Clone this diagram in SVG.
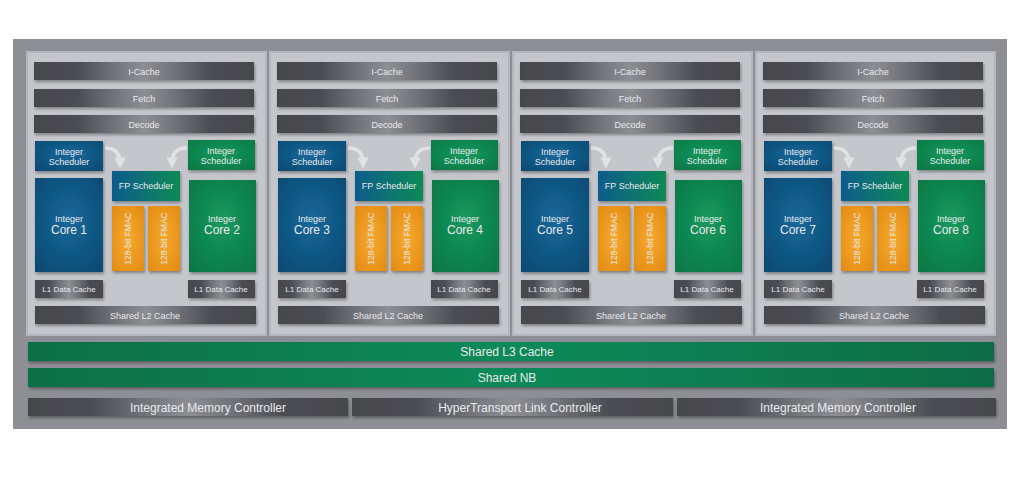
<svg xmlns="http://www.w3.org/2000/svg" width="1024" height="478" viewBox="0 0 1024 478">
<defs>
<linearGradient id="gBar" x1="0" y1="0" x2="1" y2="0">
<stop offset="0" stop-color="#45474d"/><stop offset="0.2" stop-color="#4b4d53"/><stop offset="0.36" stop-color="#707278"/><stop offset="0.5" stop-color="#8c8e94"/><stop offset="0.64" stop-color="#707278"/><stop offset="0.8" stop-color="#4b4d53"/><stop offset="1" stop-color="#45474d"/>
</linearGradient>
<radialGradient id="gBlue" cx="0.5" cy="0.45" r="0.7">
<stop offset="0" stop-color="#16689a"/><stop offset="1" stop-color="#0b4a72"/>
</radialGradient>
<radialGradient id="gGreen" cx="0.5" cy="0.45" r="0.7">
<stop offset="0" stop-color="#16995e"/><stop offset="1" stop-color="#097746"/>
</radialGradient>
<radialGradient id="gOrange" cx="0.5" cy="0.5" r="0.7">
<stop offset="0" stop-color="#f5a92e"/><stop offset="1" stop-color="#e38b14"/>
</radialGradient>
<linearGradient id="gFP" x1="0" y1="0" x2="1" y2="0">
<stop offset="0" stop-color="#0e5c8c"/><stop offset="1" stop-color="#0a8a55"/>
</linearGradient>
<linearGradient id="gL3" x1="0" y1="0" x2="1" y2="0">
<stop offset="0" stop-color="#087045"/><stop offset="0.5" stop-color="#0a8a5a"/><stop offset="1" stop-color="#076c46"/>
</linearGradient>
<filter id="sh" x="-10%" y="-20%" width="130%" height="160%">
<feDropShadow dx="1" dy="2" stdDeviation="1.5" flood-color="#000" flood-opacity="0.35"/>
</filter>
<marker id="ah" viewBox="0 0 10 10" refX="5" refY="5" markerWidth="3.2" markerHeight="3.2" orient="auto">
<path d="M0,0 L10,5 L0,10 z" fill="#e4e6ea"/>
</marker>
</defs>
<style>
.t{font-family:"Liberation Sans",Arial,sans-serif;fill:#e8e9ec;text-anchor:middle}
.s9{font-size:9px}.s8{font-size:8px}.s85{font-size:8.5px}.s11{font-size:12px}.s12{font-size:12px}
.bar{fill:url(#gBar);filter:url(#sh)}
.blue{fill:url(#gBlue);filter:url(#sh)}
.green{fill:url(#gGreen);filter:url(#sh)}
.orange{fill:url(#gOrange);filter:url(#sh)}
.fp{fill:url(#gFP);filter:url(#sh)}
.l3{fill:url(#gL3);filter:url(#sh)}
.mod{fill:#c4c6cb;stroke:#b3b6bc;stroke-width:2}
.arr{fill:none;stroke:#e4e6ea;stroke-width:3.5;marker-end:url(#ah);opacity:0.9}
</style>
<rect width="1024" height="478" fill="#ffffff"/>
<g id="chip-frame"><rect x="13" y="39" width="994" height="390" fill="#8d8f95"/></g>

<g id="module-1" transform="translate(0,0)">
<rect class="mod" x="27" y="52" width="239" height="283"/>
<g id="m1-icache"><rect class="bar" x="34" y="62" width="220" height="18"/><text class="t s9" x="144" y="75">I-Cache</text></g>
<g id="m1-fetch"><rect class="bar" x="34" y="89" width="220" height="18"/><text class="t s9" x="144" y="102">Fetch</text></g>
<g id="m1-decode"><rect class="bar" x="34" y="115" width="220" height="18"/><text class="t s9" x="144" y="128">Decode</text></g>
<g id="m1-isched-a"><rect class="blue" x="35" y="141" width="68" height="30"/><text class="t s9" x="69" y="155">Integer</text><text class="t s9" x="69" y="165">Scheduler</text></g>
<g id="m1-isched-b"><rect class="green" x="188" y="140" width="67" height="30"/><text class="t s9" x="221" y="154">Integer</text><text class="t s9" x="221" y="164">Scheduler</text></g>
<g id="m1-fpsched"><rect class="fp" x="112" y="171" width="68" height="30"/><text class="t s9" x="146" y="189">FP Scheduler</text></g>
<g id="m1-core-a"><rect class="blue" x="35" y="178" width="68" height="94"/><text class="t s9" x="69" y="222">Integer</text><text class="t s11" x="69" y="234">Core 1</text></g>
<g id="m1-fmac-a"><rect class="orange" x="112" y="206" width="32" height="65"/><text class="t s85" transform="translate(131,238.5) rotate(-90)">128-bit FMAC</text></g>
<g id="m1-fmac-b"><rect class="orange" x="148" y="206" width="32" height="65"/><text class="t s85" transform="translate(167,238.5) rotate(-90)">128-bit FMAC</text></g>
<g id="m1-core-b"><rect class="green" x="189" y="180" width="67" height="92"/><text class="t s9" x="222" y="222">Integer</text><text class="t s11" x="222" y="234">Core 2</text></g>
<g id="m1-l1-a"><rect class="bar" x="35" y="280" width="68" height="18"/><text class="t s8" x="69" y="292">L1 Data Cache</text></g>
<g id="m1-l1-b"><rect class="bar" x="188" y="280" width="67" height="18"/><text class="t s8" x="221" y="292">L1 Data Cache</text></g>
<g id="m1-l2"><rect class="bar" x="35" y="306" width="221" height="18"/><text class="t s9" x="145" y="319">Shared L2 Cache</text></g>
</g>

<g id="module-2" transform="translate(243,0)">
<rect class="mod" x="27" y="52" width="239" height="283"/>
<g id="m2-icache"><rect class="bar" x="34" y="62" width="220" height="18"/><text class="t s9" x="144" y="75">I-Cache</text></g>
<g id="m2-fetch"><rect class="bar" x="34" y="89" width="220" height="18"/><text class="t s9" x="144" y="102">Fetch</text></g>
<g id="m2-decode"><rect class="bar" x="34" y="115" width="220" height="18"/><text class="t s9" x="144" y="128">Decode</text></g>
<g id="m2-isched-a"><rect class="blue" x="35" y="141" width="68" height="30"/><text class="t s9" x="69" y="155">Integer</text><text class="t s9" x="69" y="165">Scheduler</text></g>
<g id="m2-isched-b"><rect class="green" x="188" y="140" width="67" height="30"/><text class="t s9" x="221" y="154">Integer</text><text class="t s9" x="221" y="164">Scheduler</text></g>
<g id="m2-fpsched"><rect class="fp" x="112" y="171" width="68" height="30"/><text class="t s9" x="146" y="189">FP Scheduler</text></g>
<g id="m2-core-a"><rect class="blue" x="35" y="178" width="68" height="94"/><text class="t s9" x="69" y="222">Integer</text><text class="t s11" x="69" y="234">Core 3</text></g>
<g id="m2-fmac-a"><rect class="orange" x="112" y="206" width="32" height="65"/><text class="t s85" transform="translate(131,238.5) rotate(-90)">128-bit FMAC</text></g>
<g id="m2-fmac-b"><rect class="orange" x="148" y="206" width="32" height="65"/><text class="t s85" transform="translate(167,238.5) rotate(-90)">128-bit FMAC</text></g>
<g id="m2-core-b"><rect class="green" x="189" y="180" width="67" height="92"/><text class="t s9" x="222" y="222">Integer</text><text class="t s11" x="222" y="234">Core 4</text></g>
<g id="m2-l1-a"><rect class="bar" x="35" y="280" width="68" height="18"/><text class="t s8" x="69" y="292">L1 Data Cache</text></g>
<g id="m2-l1-b"><rect class="bar" x="188" y="280" width="67" height="18"/><text class="t s8" x="221" y="292">L1 Data Cache</text></g>
<g id="m2-l2"><rect class="bar" x="35" y="306" width="221" height="18"/><text class="t s9" x="145" y="319">Shared L2 Cache</text></g>
</g>

<g id="module-3" transform="translate(486,0)">
<rect class="mod" x="27" y="52" width="239" height="283"/>
<g id="m3-icache"><rect class="bar" x="34" y="62" width="220" height="18"/><text class="t s9" x="144" y="75">I-Cache</text></g>
<g id="m3-fetch"><rect class="bar" x="34" y="89" width="220" height="18"/><text class="t s9" x="144" y="102">Fetch</text></g>
<g id="m3-decode"><rect class="bar" x="34" y="115" width="220" height="18"/><text class="t s9" x="144" y="128">Decode</text></g>
<g id="m3-isched-a"><rect class="blue" x="35" y="141" width="68" height="30"/><text class="t s9" x="69" y="155">Integer</text><text class="t s9" x="69" y="165">Scheduler</text></g>
<g id="m3-isched-b"><rect class="green" x="188" y="140" width="67" height="30"/><text class="t s9" x="221" y="154">Integer</text><text class="t s9" x="221" y="164">Scheduler</text></g>
<g id="m3-fpsched"><rect class="fp" x="112" y="171" width="68" height="30"/><text class="t s9" x="146" y="189">FP Scheduler</text></g>
<g id="m3-core-a"><rect class="blue" x="35" y="178" width="68" height="94"/><text class="t s9" x="69" y="222">Integer</text><text class="t s11" x="69" y="234">Core 5</text></g>
<g id="m3-fmac-a"><rect class="orange" x="112" y="206" width="32" height="65"/><text class="t s85" transform="translate(131,238.5) rotate(-90)">128-bit FMAC</text></g>
<g id="m3-fmac-b"><rect class="orange" x="148" y="206" width="32" height="65"/><text class="t s85" transform="translate(167,238.5) rotate(-90)">128-bit FMAC</text></g>
<g id="m3-core-b"><rect class="green" x="189" y="180" width="67" height="92"/><text class="t s9" x="222" y="222">Integer</text><text class="t s11" x="222" y="234">Core 6</text></g>
<g id="m3-l1-a"><rect class="bar" x="35" y="280" width="68" height="18"/><text class="t s8" x="69" y="292">L1 Data Cache</text></g>
<g id="m3-l1-b"><rect class="bar" x="188" y="280" width="67" height="18"/><text class="t s8" x="221" y="292">L1 Data Cache</text></g>
<g id="m3-l2"><rect class="bar" x="35" y="306" width="221" height="18"/><text class="t s9" x="145" y="319">Shared L2 Cache</text></g>
</g>

<g id="module-4" transform="translate(729,0)">
<rect class="mod" x="27" y="52" width="239" height="283"/>
<g id="m4-icache"><rect class="bar" x="34" y="62" width="220" height="18"/><text class="t s9" x="144" y="75">I-Cache</text></g>
<g id="m4-fetch"><rect class="bar" x="34" y="89" width="220" height="18"/><text class="t s9" x="144" y="102">Fetch</text></g>
<g id="m4-decode"><rect class="bar" x="34" y="115" width="220" height="18"/><text class="t s9" x="144" y="128">Decode</text></g>
<g id="m4-isched-a"><rect class="blue" x="35" y="141" width="68" height="30"/><text class="t s9" x="69" y="155">Integer</text><text class="t s9" x="69" y="165">Scheduler</text></g>
<g id="m4-isched-b"><rect class="green" x="188" y="140" width="67" height="30"/><text class="t s9" x="221" y="154">Integer</text><text class="t s9" x="221" y="164">Scheduler</text></g>
<g id="m4-fpsched"><rect class="fp" x="112" y="171" width="68" height="30"/><text class="t s9" x="146" y="189">FP Scheduler</text></g>
<g id="m4-core-a"><rect class="blue" x="35" y="178" width="68" height="94"/><text class="t s9" x="69" y="222">Integer</text><text class="t s11" x="69" y="234">Core 7</text></g>
<g id="m4-fmac-a"><rect class="orange" x="112" y="206" width="32" height="65"/><text class="t s85" transform="translate(131,238.5) rotate(-90)">128-bit FMAC</text></g>
<g id="m4-fmac-b"><rect class="orange" x="148" y="206" width="32" height="65"/><text class="t s85" transform="translate(167,238.5) rotate(-90)">128-bit FMAC</text></g>
<g id="m4-core-b"><rect class="green" x="189" y="180" width="67" height="92"/><text class="t s9" x="222" y="222">Integer</text><text class="t s11" x="222" y="234">Core 8</text></g>
<g id="m4-l1-a"><rect class="bar" x="35" y="280" width="68" height="18"/><text class="t s8" x="69" y="292">L1 Data Cache</text></g>
<g id="m4-l1-b"><rect class="bar" x="188" y="280" width="67" height="18"/><text class="t s8" x="221" y="292">L1 Data Cache</text></g>
<g id="m4-l2"><rect class="bar" x="35" y="306" width="221" height="18"/><text class="t s9" x="145" y="319">Shared L2 Cache</text></g>
</g>

<g id="connectors">
<path class="arr" d="M105,148 C115,148 120,153 120,163"/>
<path class="arr" d="M187,148 C177,148 172,153 172,163"/>
<path class="arr" d="M348,148 C358,148 363,153 363,163"/>
<path class="arr" d="M430,148 C420,148 415,153 415,163"/>
<path class="arr" d="M591,148 C601,148 606,153 606,163"/>
<path class="arr" d="M673,148 C663,148 658,153 658,163"/>
<path class="arr" d="M834,148 C844,148 849,153 849,163"/>
<path class="arr" d="M916,148 C906,148 901,153 901,163"/>
</g>

<g id="l3-cache"><rect class="l3" x="28" y="342" width="966" height="19"/><text class="t s12" x="507" y="356">Shared L3 Cache</text></g>
<g id="shared-nb"><rect class="l3" x="28" y="368" width="966" height="19"/><text class="t s12" x="507" y="382">Shared NB</text></g>
<g id="imc-left"><rect class="bar" x="28" y="398" width="320" height="18"/><text class="t s12" x="208" y="411.5">Integrated Memory Controller</text></g>
<g id="ht-link"><rect class="bar" x="352" y="398" width="321" height="18"/><text class="t s12" x="520" y="411.5">HyperTransport Link Controller</text></g>
<g id="imc-right"><rect class="bar" x="677" y="398" width="319" height="18"/><text class="t s12" x="838" y="411.5">Integrated Memory Controller</text></g>
</svg>
